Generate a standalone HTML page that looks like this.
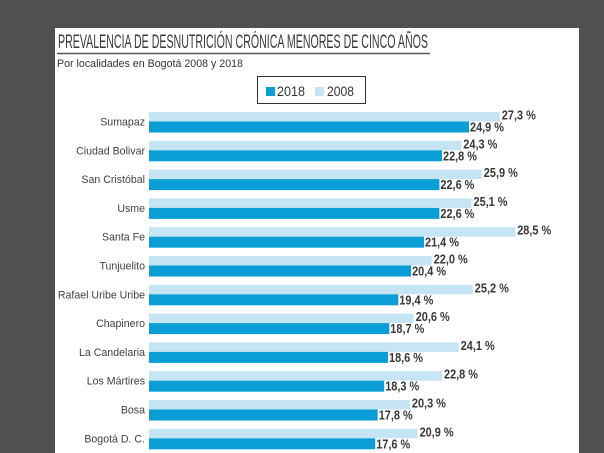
<!DOCTYPE html>
<html><head><meta charset="utf-8"><style>
html,body{margin:0;padding:0;background:#505050;}
svg{display:block;}
.cat{font-family:"Liberation Sans","DejaVu Sans",sans-serif;font-size:10.6px;fill:#3f3f3f;text-anchor:end;}
.val{font-family:"Liberation Sans Narrow","Liberation Sans",sans-serif;font-size:12.5px;font-weight:bold;fill:#383838;}
</style></head><body>
<svg width="604" height="453" viewBox="0 0 604 453" xmlns="http://www.w3.org/2000/svg">
<rect x="0" y="0" width="604" height="453" fill="#505050"/>
<rect x="55" y="28" width="524" height="425" fill="#ffffff"/>
<text x="58" y="48" font-family="'Liberation Sans Narrow','Liberation Sans',sans-serif" font-size="19" fill="#3a3a3a" textLength="370" lengthAdjust="spacingAndGlyphs">PREVALENCIA DE DESNUTRICIÓN CRÓNICA MENORES DE CINCO AÑOS</text>
<line x1="57" y1="53.5" x2="430" y2="53.5" stroke="#555" stroke-width="1.5"/>
<text x="57" y="67" font-family="'Liberation Sans',sans-serif" font-size="11" fill="#333" textLength="186" lengthAdjust="spacingAndGlyphs">Por localidades en Bogotá 2008 y 2018</text>
<rect x="257.5" y="76.5" width="108" height="27" fill="none" stroke="#333" stroke-width="1"/>
<rect x="266" y="87" width="9" height="9" fill="#0a9dd6"/>
<text x="277" y="96" font-family="'Liberation Sans',sans-serif" font-size="13.5" fill="#333" textLength="28" lengthAdjust="spacingAndGlyphs">2018</text>
<rect x="315" y="87" width="9" height="9" fill="#c6e5f4"/>
<text x="327" y="96" font-family="'Liberation Sans',sans-serif" font-size="13.5" fill="#333" textLength="27" lengthAdjust="spacingAndGlyphs">2008</text>

<g>
<rect x="149" y="112" width="350.8" height="9.5" fill="#c6e5f4"/><rect x="149" y="121.5" width="320.0" height="11" fill="#0a9dd6"/>
<text class="cat" x="145" y="125.5">Sumapaz</text>
<text class="val" x="501.8" y="119.5" textLength="34" lengthAdjust="spacingAndGlyphs">27,3 %</text>
<text class="val" x="470" y="131.5" textLength="34" lengthAdjust="spacingAndGlyphs">24,9 %</text>

<rect x="149" y="140.8" width="312.3" height="9.5" fill="#c6e5f4"/><rect x="149" y="150.3" width="293.0" height="11" fill="#0a9dd6"/>
<text class="cat" x="145" y="154.3">Ciudad Bolivar</text>
<text class="val" x="463.3" y="148.3" textLength="34" lengthAdjust="spacingAndGlyphs">24,3 %</text>
<text class="val" x="443" y="160.3" textLength="34" lengthAdjust="spacingAndGlyphs">22,8 %</text>

<rect x="149" y="169.6" width="332.8" height="9.5" fill="#c6e5f4"/><rect x="149" y="179.1" width="290.4" height="11" fill="#0a9dd6"/>
<text class="cat" x="145" y="183.1">San Cristóbal</text>
<text class="val" x="483.8" y="177.1" textLength="34" lengthAdjust="spacingAndGlyphs">25,9 %</text>
<text class="val" x="440.4" y="189.1" textLength="34" lengthAdjust="spacingAndGlyphs">22,6 %</text>

<rect x="149" y="198.4" width="322.5" height="9.5" fill="#c6e5f4"/><rect x="149" y="207.9" width="290.4" height="11" fill="#0a9dd6"/>
<text class="cat" x="145" y="211.9">Usme</text>
<text class="val" x="473.5" y="205.9" textLength="34" lengthAdjust="spacingAndGlyphs">25,1 %</text>
<text class="val" x="440.4" y="217.9" textLength="34" lengthAdjust="spacingAndGlyphs">22,6 %</text>

<rect x="149" y="227.2" width="366.2" height="9.5" fill="#c6e5f4"/><rect x="149" y="236.7" width="275.0" height="11" fill="#0a9dd6"/>
<text class="cat" x="145" y="240.7">Santa Fe</text>
<text class="val" x="517.2" y="234.7" textLength="34" lengthAdjust="spacingAndGlyphs">28,5 %</text>
<text class="val" x="425" y="246.7" textLength="34" lengthAdjust="spacingAndGlyphs">21,4 %</text>

<rect x="149" y="256" width="282.7" height="9.5" fill="#c6e5f4"/><rect x="149" y="265.5" width="262.1" height="11" fill="#0a9dd6"/>
<text class="cat" x="145" y="269.5">Tunjuelito</text>
<text class="val" x="433.7" y="263.5" textLength="34" lengthAdjust="spacingAndGlyphs">22,0 %</text>
<text class="val" x="412.1" y="275.5" textLength="34" lengthAdjust="spacingAndGlyphs">20,4 %</text>

<rect x="149" y="284.8" width="323.8" height="9.5" fill="#c6e5f4"/><rect x="149" y="294.3" width="249.3" height="11" fill="#0a9dd6"/>
<text class="cat" x="145" y="298.3">Rafael Uribe Uribe</text>
<text class="val" x="474.8" y="292.3" textLength="34" lengthAdjust="spacingAndGlyphs">25,2 %</text>
<text class="val" x="399.3" y="304.3" textLength="34" lengthAdjust="spacingAndGlyphs">19,4 %</text>

<rect x="149" y="313.6" width="264.7" height="9.5" fill="#c6e5f4"/><rect x="149" y="323.1" width="240.3" height="11" fill="#0a9dd6"/>
<text class="cat" x="145" y="327.1">Chapinero</text>
<text class="val" x="415.7" y="321.1" textLength="34" lengthAdjust="spacingAndGlyphs">20,6 %</text>
<text class="val" x="390.3" y="333.1" textLength="34" lengthAdjust="spacingAndGlyphs">18,7 %</text>

<rect x="149" y="342.4" width="309.7" height="9.5" fill="#c6e5f4"/><rect x="149" y="351.9" width="239.0" height="11" fill="#0a9dd6"/>
<text class="cat" x="145" y="355.9">La Candelaria</text>
<text class="val" x="460.7" y="349.9" textLength="34" lengthAdjust="spacingAndGlyphs">24,1 %</text>
<text class="val" x="389" y="361.9" textLength="34" lengthAdjust="spacingAndGlyphs">18,6 %</text>

<rect x="149" y="371.2" width="293.0" height="9.5" fill="#c6e5f4"/><rect x="149" y="380.7" width="235.2" height="11" fill="#0a9dd6"/>
<text class="cat" x="145" y="384.7">Los Mártires</text>
<text class="val" x="444" y="378.7" textLength="34" lengthAdjust="spacingAndGlyphs">22,8 %</text>
<text class="val" x="385.2" y="390.7" textLength="34" lengthAdjust="spacingAndGlyphs">18,3 %</text>

<rect x="149" y="400" width="260.9" height="9.5" fill="#c6e5f4"/><rect x="149" y="409.5" width="228.7" height="11" fill="#0a9dd6"/>
<text class="cat" x="145" y="413.5">Bosa</text>
<text class="val" x="411.9" y="407.5" textLength="34" lengthAdjust="spacingAndGlyphs">20,3 %</text>
<text class="val" x="378.7" y="419.5" textLength="34" lengthAdjust="spacingAndGlyphs">17,8 %</text>

<rect x="149" y="428.8" width="268.6" height="9.5" fill="#c6e5f4"/><rect x="149" y="438.3" width="226.2" height="11" fill="#0a9dd6"/>
<text class="cat" x="145" y="442.3">Bogotá D. C.</text>
<text class="val" x="419.6" y="436.3" textLength="34" lengthAdjust="spacingAndGlyphs">20,9 %</text>
<text class="val" x="376.2" y="448.3" textLength="34" lengthAdjust="spacingAndGlyphs">17,6 %</text>
</g>
</svg>
</body></html>
